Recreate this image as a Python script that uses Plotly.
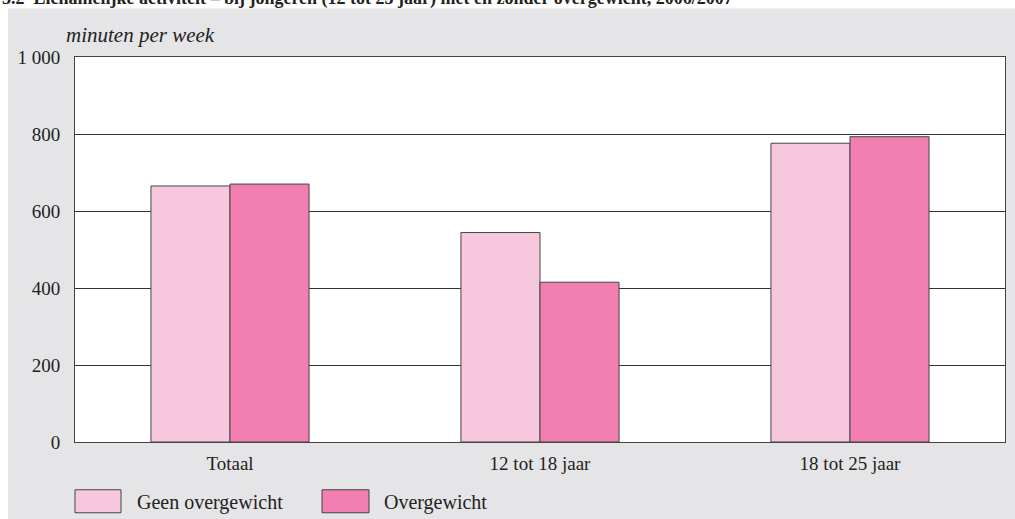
import plotly.graph_objects as go

categories = ["Totaal", "12 tot 18 jaar", "18 tot 25 jaar"]
geen_overgewicht = [665, 544, 776]
overgewicht = [670, 415, 793]
series_names = ["Geen overgewicht", "Overgewicht"]
tick_vals = [0, 200, 400, 600, 800, 1000]
tick_text = ["0", "200", "400", "600", "800", "1 000"]
title_text = "3.2  Lichamelijke activiteit – bij jongeren (12 tot 25 jaar) met en zonder overgewicht, 2006/2007"
y_label = "minuten per week"

light = "#F7C8DD"
dark = "#F17FB1"
edge = "#444444"
FONT = "Liberation Serif"
TXT = "#222222"

W, H = 1015, 519
L, R, T, B = 75, 10, 56.5, 77.3
pw, ph = W - L - R, H - T - B

def px(x):
    return (x - L) / pw

def py(y):
    return (H - B - y) / ph

fig = go.Figure()
fig.add_trace(go.Bar(x=categories, y=geen_overgewicht, name=series_names[0],
                     marker=dict(color=light, line=dict(color=edge, width=1)),
                     showlegend=False, hoverinfo="skip"))
fig.add_trace(go.Bar(x=categories, y=overgewicht, name=series_names[1],
                     marker=dict(color=dark, line=dict(color=edge, width=1)),
                     showlegend=False, hoverinfo="skip"))

shapes = [
    # white page margins at top and left
    dict(type="rect", xref="paper", yref="paper", x0=px(-5), x1=px(W + 5), y0=py(8), y1=py(-5),
         fillcolor="white", line=dict(width=0), layer="below"),
    dict(type="rect", xref="paper", yref="paper", x0=px(-5), x1=px(8), y0=py(H + 5), y1=py(-5),
         fillcolor="white", line=dict(width=0), layer="below"),
    # legend swatches
    dict(type="rect", xref="paper", yref="paper", x0=px(75), x1=px(121), y0=py(512.5), y1=py(489.5),
         fillcolor=light, line=dict(color=edge, width=1)),
    dict(type="rect", xref="paper", yref="paper", x0=px(322), x1=px(369), y0=py(512.5), y1=py(489.5),
         fillcolor=dark, line=dict(color=edge, width=1)),
]

annotations = [
    dict(text="<b>" + title_text + "</b>", xref="paper", yref="paper", x=px(0), y=py(-2),
         xanchor="left", yanchor="middle", showarrow=False,
         font=dict(family=FONT, size=18, color=TXT)),
    dict(text="<i>" + y_label + "</i>", xref="paper", yref="paper", x=px(64), y=py(34),
         xanchor="left", yanchor="middle", showarrow=False,
         font=dict(family=FONT, size=21, color=TXT)),
    dict(text=series_names[0], xref="paper", yref="paper", x=px(135), y=py(502),
         xanchor="left", yanchor="middle", showarrow=False,
         font=dict(family=FONT, size=20, color=TXT)),
    dict(text=series_names[1], xref="paper", yref="paper", x=px(382), y=py(502),
         xanchor="left", yanchor="middle", showarrow=False,
         font=dict(family=FONT, size=20, color=TXT)),
]

fig.update_layout(
    width=W, height=H,
    margin=dict(l=L, r=R, t=T, b=B, pad=0),
    paper_bgcolor="#E5E5E7",
    plot_bgcolor="white",
    barmode="group",
    bargap=0.49,
    bargroupgap=0,
    font=dict(family=FONT, size=19, color=TXT),
    shapes=shapes,
    annotations=annotations,
    showlegend=False,
    hovermode=False,
)
fig.update_xaxes(showline=True, linecolor=edge, linewidth=1, mirror=True,
                 ticks="", showgrid=False, ticklabelstandoff=4, fixedrange=True)
fig.update_yaxes(range=[0, 1000], tickvals=tick_vals, ticktext=tick_text,
                 showline=True, linecolor=edge, linewidth=1, mirror=True,
                 showgrid=True, gridcolor="#333333", gridwidth=1, zeroline=False,
                 ticks="", ticklabelstandoff=10, fixedrange=True)

fig.write_html("out.html", config={"displayModeBar": False},
               post_script="document.body.style.margin='0';document.body.style.overflow='hidden';")
